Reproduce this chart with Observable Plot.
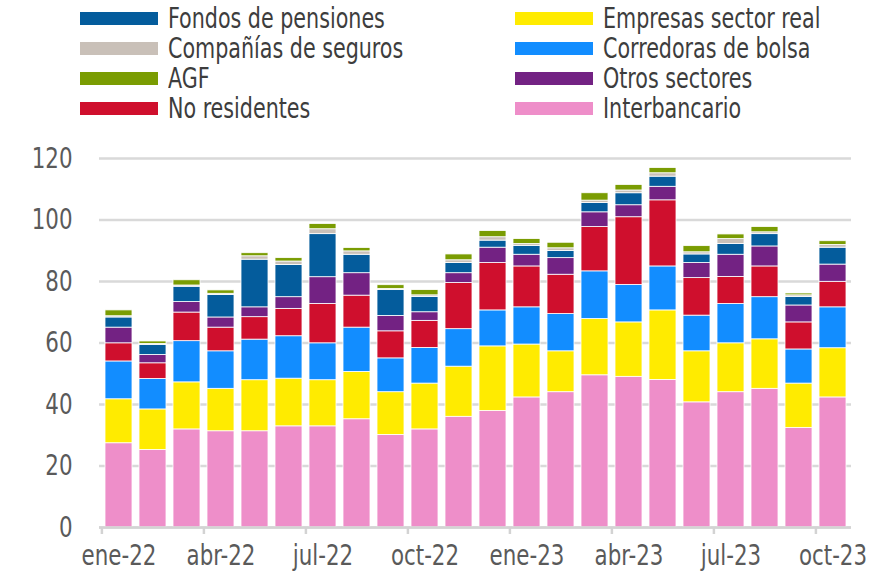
<!DOCTYPE html>
<html><head><meta charset="utf-8">
<script src="https://cdn.jsdelivr.net/npm/d3@7"></script>
<script src="https://cdn.jsdelivr.net/npm/@observablehq/plot@0.6"></script>
<style>
body{margin:0;background:#fff;}
#wrap{width:876px;height:582px;position:relative;overflow:hidden;font-family:"Liberation Sans Narrow","Arial Narrow","DejaVu Sans Condensed",sans-serif;}
#legend{position:relative;height:140px;}
.item{position:absolute;display:flex;align-items:center;font-size:28px;color:#3d3d3d;height:30px;white-space:nowrap;}
.sw{width:78px;height:13px;margin-right:10px;flex:none;}
.lt{display:inline-block;transform:scaleX(0.82);transform-origin:left center;}
</style></head>
<body><div id="wrap"><div id="legend"></div><div id="chart"></div></div>
<script>
const months = ["ene-22","feb-22","mar-22","abr-22","may-22","jun-22","jul-22","ago-22","sep-22","oct-22","nov-22","dic-22",
                "ene-23","feb-23","mar-23","abr-23","may-23","jun-23","jul-23","ago-23","sep-23","oct-23"];
const interbancario = [27.4,25.2,31.9,31.3,31.3,32.9,32.9,35.2,30.1,31.9,36.0,37.9,42.3,44.0,49.5,49.0,48.0,40.7,44.0,45.1,32.4,42.3];
const empresas      = [14.3,13.2,15.3,13.8,16.6,15.5,15.0,15.4,13.9,14.9,16.3,21.0,17.2,13.3,18.3,17.7,22.6,16.6,15.9,16.1,14.4,16.0];
const corredoras    = [12.3,9.9,13.4,12.2,13.2,13.8,12.0,14.4,11.0,11.6,12.2,11.7,12.1,12.1,15.5,12.2,14.3,11.6,12.8,13.7,11.1,13.3];
const noResidentes  = [5.9,5.1,9.3,7.7,7.3,8.9,12.8,10.4,8.8,8.8,15.0,15.4,13.3,12.8,14.4,22.0,21.5,12.2,8.8,10.0,8.8,8.3];
const otros         = [5.1,2.7,3.4,3.3,3.2,3.8,8.7,7.3,5.0,2.8,3.2,5.0,3.8,5.4,4.8,3.9,4.4,4.9,7.2,6.5,5.5,5.6];
const fondos        = [3.3,3.3,5.0,7.3,15.5,10.5,14.0,6.0,8.4,5.0,3.3,2.3,2.9,2.3,3.0,3.9,3.3,2.8,3.5,4.0,2.8,5.5];
const seguros       = [0.4,0.3,0.4,0.4,1.1,1.1,1.6,1.1,0.4,0.5,0.9,1.1,0.6,0.9,0.8,0.9,1.1,0.7,1.6,0.6,0.5,0.9];
const agf           = [1.9,0.8,1.7,1.1,1.0,1.1,1.7,1.1,1.2,1.7,1.9,2.0,1.6,1.8,2.4,1.8,1.7,2.0,1.5,1.7,0.6,1.2];
const yTicks = [0,20,40,60,80,100,120];

// stack order bottom -> top
const series = [
  {name:"Interbancario", values:interbancario, color:"#ee8ec9"},
  {name:"Empresas sector real", values:empresas, color:"#ffeb00"},
  {name:"Corredoras de bolsa", values:corredoras, color:"#128dff"},
  {name:"No residentes", values:noResidentes, color:"#cf0f2d"},
  {name:"Otros sectores", values:otros, color:"#732283"},
  {name:"Fondos de pensiones", values:fondos, color:"#045c9c"},
  {name:"Compañías de seguros", values:seguros, color:"#c9c0b8"},
  {name:"AGF", values:agf, color:"#7a9c02"}
];
const legendCols = [
  ["Fondos de pensiones","Compañías de seguros","AGF","No residentes"],
  ["Empresas sector real","Corredoras de bolsa","Otros sectores","Interbancario"]
];

const data = months.flatMap((m,i) => series.map(s => ({month:m, sector:s.name, value:s.values[i]})));

// legend
const leg = document.getElementById("legend");
const colX = [80, 515];
legendCols.forEach((col, c) => col.forEach((name, r) => {
  const s = series.find(d => d.name === name);
  const div = document.createElement("div");
  div.className = "item";
  div.style.left = colX[c] + "px";
  div.style.top = (3 + r*30.2) + "px";
  div.innerHTML = `<span class="sw" style="background:${s.color}"></span><span class="lt">${name}</span>`;
  leg.appendChild(div);
}));

const W = 876, mL = 99, mR = 25;
const pIn = 0.21, pOut = 0.1;
const step = (W - mL - mR) / (months.length - pIn + 2*pOut);
const quarterly = months.filter((d,i) => i % 3 === 0);
const font = '"Liberation Sans Narrow","Arial Narrow","DejaVu Sans Condensed",sans-serif';

const chart = Plot.plot({
  width: W, height: 442,
  marginTop: 18, marginBottom: 55, marginLeft: mL, marginRight: mR,
  style: {fontFamily: font, fontSize: "29px", color: "#5a5a5a", background: "#fff", overflow: "visible"},
  x: {domain: months, paddingInner: pIn, paddingOuter: pOut, label: null},
  y: {domain: [0, 120], label: null},
  color: {domain: series.map(s => s.name), range: series.map(s => s.color)},
  marks: [
    Plot.gridY(yTicks, {stroke: "#d9d9d9", strokeOpacity: 1, strokeWidth: 2.5}),
    Plot.barY(data, {x: "month", y: "value", fill: "sector", order: null, stroke: "white", strokeWidth: 0.8}),
    Plot.ruleY([0], {stroke: "#d3d3d3", strokeWidth: 2.5}),
    Plot.axisX({ticks: quarterly, tickSize: 7, tickFormat: () => "", dx: -step/2, stroke: "#d3d3d3", strokeWidth: 2.5}),
    Plot.axisX({ticks: quarterly, tickSize: 0, tickPadding: 17, fill: "#5a5a5a"}),
    Plot.axisY({ticks: yTicks, tickSize: 0, tickPadding: 27, fill: "#5a5a5a"})
  ]
});
document.getElementById("chart").appendChild(chart);
// condense axis text horizontally (around its anchor) to mimic the narrow typeface
chart.querySelectorAll("text").forEach(t => {
  const tr = t.getAttribute("transform");
  if (tr) {
    t.setAttribute("transform", tr + " scale(0.82,1)");
  } else {
    const x = +(t.getAttribute("x") || 0);
    t.setAttribute("transform", `translate(${x},0) scale(0.82,1) translate(${-x},0)`);
  }
});
</script>
</body></html>
